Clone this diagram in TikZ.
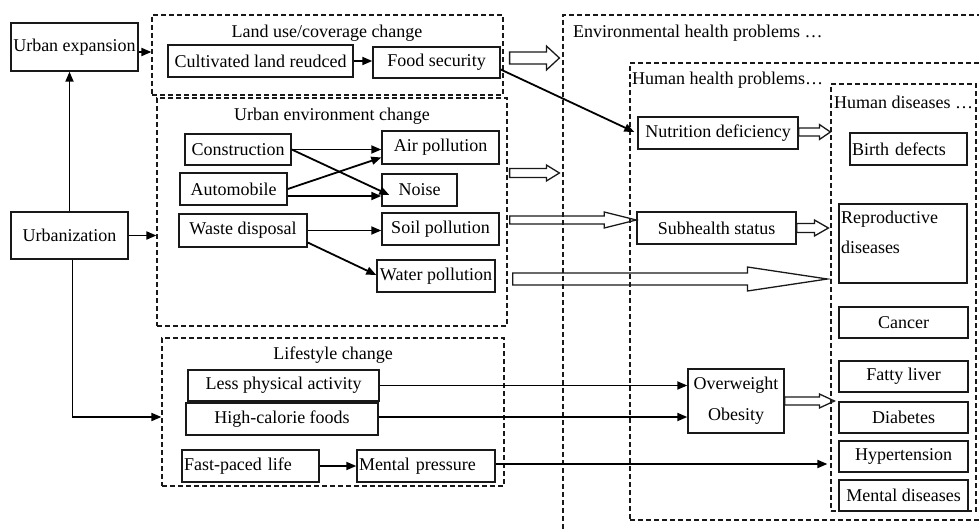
\documentclass[tikz,border=0pt]{standalone}
\usepackage{fontspec}
\setmainfont{Liberation Serif}
\usetikzlibrary{arrows.meta,calc}
% block (hollow) arrow: #1 start, #2 end (x used), #3 head length, #4 shaft half height, #5 head half height
\newcommand{\blockarr}[5]{%
  \draw[hollow] let \p1=#1, \p2=#2 in
    (\x1,\y1+#4pt) -- (\x2-#3pt,\y1+#4pt) -- (\x2-#3pt,\y1+#5pt) -- (\x2,\y1)
    -- (\x2-#3pt,\y1-#5pt) -- (\x2-#3pt,\y1-#4pt) -- (\x1,\y1-#4pt) -- cycle;}
\begin{document}
\begin{tikzpicture}[x=1pt,y=-1pt,
  every node/.style={font=\fontsize{18pt}{30pt}\selectfont, inner sep=0pt, text=black},
  box/.style={draw=black!90, line width=1.4pt, inner sep=1pt, align=center},
  lbox/.style={box, align=left, inner xsep=2pt},
  grp/.style={draw=black!90, dash pattern=on 5pt off 3pt, line width=1.2pt},
  arr/.style={draw=black, line width=1.8pt, -{Triangle[length=10pt,width=8pt]}},
  hollow/.style={draw=black!90, line width=1.3pt}]
\clip (0,0) rectangle (979,532);

% group (dashed) boxes
\node[grp, minimum width=437pt, minimum height=545pt] (env) at (781.5,287.5) {};
\node[grp, minimum width=370pt, minimum height=457pt] (hhp) at (815,291.5) {};
\node[grp, minimum width=145pt, minimum height=427pt] (hd) at (903.5,297.5) {};
\node[grp, minimum width=351pt, minimum height=80pt] (land) at (327.5,55) {};
\node[grp, minimum width=350pt, minimum height=228pt] (uenv) at (332,212) {};
\node[grp, minimum width=342pt, minimum height=148pt] (life) at (333,412) {};

% titles
\node (tland) at (327,33) {Land use/coverage change};
\node (tuenv) at (332,116) {Urban environment change};
\node (tlife) at (333,355) {Lifestyle change};
\node[anchor=west] (tenv) at (573,33) {Environmental health problems …};
\node[anchor=west] (thhp) at (632,80) {Human health problems…};
\node[anchor=west] (thd) at (834,102) {Human diseases …};

% left
\node[box, minimum width=127pt, minimum height=48pt] (ue) at (74.5,47) {Urban expansion};
\node[box, minimum width=117pt, minimum height=47pt] (urb) at (69.5,235.5) {Urbanization};

% land use
\node[box, minimum width=185pt, minimum height=32pt] (cult) at (260.5,61) {Cultivated land reudced};
\node[box, minimum width=127pt, minimum height=31pt] (food) at (436.5,62.5) {Food security};

% urban environment
\node[box, minimum width=106pt, minimum height=31pt] (cons) at (238,149.5) {Construction};
\node[box, minimum width=107pt, minimum height=32pt] (auto) at (233.5,189) {Automobile};
\node[box, minimum width=128pt, minimum height=33pt] (waste) at (243,230.5) {Waste disposal};
\node[box, minimum width=117pt, minimum height=33pt] (air) at (440.5,147.5) {Air pollution};
\node[box, minimum width=75pt, minimum height=32pt] (noise) at (419.5,190) {Noise};
\node[box, minimum width=117pt, minimum height=32pt] (soil) at (440.5,229) {Soil pollution};
\node[box, minimum width=118pt, minimum height=32pt] (water) at (436,276) {Water pollution};

% lifestyle
\node[box, minimum width=191pt, minimum height=31pt] (less) at (283.5,385.5) {Less physical activity};
\node[box, minimum width=192pt, minimum height=32pt] (high) at (282,419) {High-calorie foods};
\node[lbox, text width=133pt, minimum height=32pt] (fast) at (250.5,466) {Fast-paced life};
\node[lbox, text width=134pt, minimum height=32pt] (mental) at (426,466) {Mental pressure};

% human health problems
\node[box, minimum width=160pt, minimum height=32pt] (nut) at (718,133) {Nutrition deficiency};
\node[box, minimum width=159pt, minimum height=32pt] (sub) at (716.5,228) {Subhealth status};
\node[box, minimum width=96pt, minimum height=64pt, font=\fontsize{18pt}{31pt}\selectfont] (over) at (736,401) {Overweight\\Obesity};

% human diseases
\node[lbox, text width=113pt, minimum height=32pt] (birth) at (908.5,149) {Birth defects};
\node[lbox, text width=124pt, minimum height=79pt] (repro) at (903,243.5) {Reproductive\\diseases\\[-8pt]\mbox{}};
\node[box, minimum width=129pt, minimum height=31pt] (cancer) at (903.5,322.5) {Cancer};
\node[box, minimum width=129pt, minimum height=31pt] (fatty) at (903.5,376.5) {Fatty liver};
\node[box, minimum width=129pt, minimum height=31pt] (diab) at (903.5,417.5) {Diabetes};
\node[box, minimum width=129pt, minimum height=31pt] (hyper) at (903.5,456.5) {Hypertension};
\node[box, minimum width=129pt, minimum height=31pt] (mentd) at (903.5,495.5) {Mental diseases};

% solid arrows
\draw[arr] (urb.north) -- (urb.north |- ue.south);
\draw[arr] ([yshift=-5pt]ue.east) -- ([yshift=-5pt]ue.east -| land.west);
\draw[arr] (urb.east) -- (urb.east -| uenv.west);
\draw[arr] ([xshift=3pt]urb.south) |- ([yshift=-5pt]life.west);
\draw[arr] (cult.east) -- (cult.east -| food.west);
\draw[arr] (cons.east) -- (cons.east -| air.west);
\draw[arr] (cons.east) -- ([xshift=8pt,yshift=-5pt]noise.west);
\draw[arr] (auto.east) -- ([yshift=-10pt]air.west);
\draw[arr] ([yshift=-7pt]auto.east) -- ([yshift=-7pt]auto.east -| noise.west);
\draw[arr] (waste.east) -- (waste.east -| soil.west);
\draw[arr] ([yshift=-12pt]waste.east) -- ([yshift=1pt]water.west);
\draw[arr] ([yshift=-7pt]food.east) -- ([xshift=-3pt,yshift=1pt]nut.west);
\draw[arr] (less.east) -- (less.east -| over.west);
\draw[arr] ([yshift=2pt]high.east) -- ([yshift=2pt]high.east -| over.west);
\draw[arr] (fast.east) -- (fast.east -| mental.west);
\draw[arr] ([yshift=2pt]mental.east) -- ([yshift=2pt,xshift=-3pt]mental.east -| hd.west);

% hollow arrows
\blockarr{($(land.east)+(6,3)$)}{($(env.west)+(-3,0)$)}{13}{6}{12}
\blockarr{($(uenv.east)+(2,-39)$)}{($(env.west)+(-3,0)$)}{13}{4.5}{8}
\blockarr{($(soil.east)+(10,-9)$)}{(sub.west)}{32}{4}{8}
\blockarr{($(water.east)+(17,3)$)}{($(hd.west)+(-3,0)$)}{80}{6}{12}
\blockarr{($(nut.east)+(0,-1)$)}{(hd.west)}{11}{4}{7.5}
\blockarr{(sub.east)}{($(hd.west)+(-2,0)$)}{14}{4.5}{8}
\blockarr{(over.east)}{($(hd.west)+(4,0)$)}{15}{4}{7}
\end{tikzpicture}
\end{document}
